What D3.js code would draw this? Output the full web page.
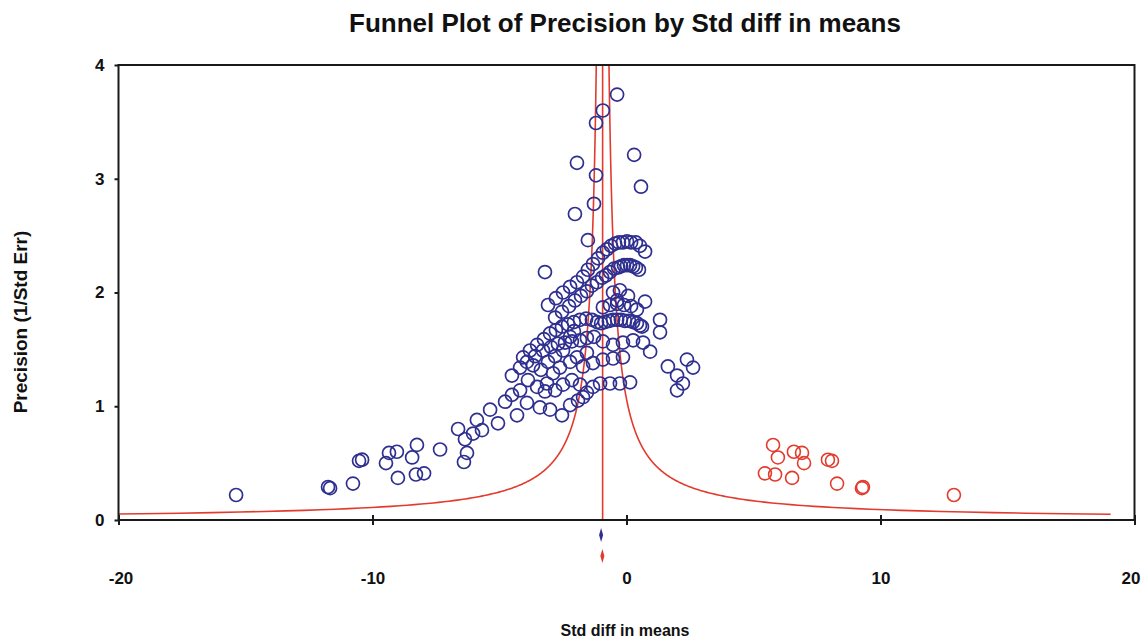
<!DOCTYPE html>
<html>
<head>
<meta charset="utf-8">
<script src="https://cdn.jsdelivr.net/npm/d3@7"></script>
<style>
    body { margin: 0; background: #fff; }
    text { font-family: "Liberation Sans", Arial, sans-serif; font-weight: bold; }
</style>
</head>
<body>
<div id="funnel"><svg></svg></div>
<script>
// Observed studies (blue)
const observedEffects = [
    -15.37, -11.75, -11.67, -10.77, -10.53, -10.41, -9.47, -9.35, -9.04, -9.00, -8.44, -8.29, -8.25, -7.97, -7.34, -6.63, -6.36, -6.28, -6.40, -6.04, -5.89,
    -5.69, -5.37, -5.06, -4.78, -4.51, -4.19, -3.88, -3.52, -3.13, -2.89, -2.62, -2.22, -1.95, -1.71, -1.56, -1.32, -0.93, -0.53, -0.14,
    -4.31, -3.92, -3.41, -3.01, -2.54, -2.22, -1.91, -1.71, -1.56, -1.32, -1.04, -0.65, -0.26, 0.14,
    -3.68, -3.37, -3.09, -2.81, -2.50, -2.22, -2.07, -3.21, -2.81, -2.50, -2.15, -1.83,
    -4.51, -4.19, -3.92, -3.60, -3.29, -2.97, -2.70, -2.42, -2.15, -1.83, -1.56, -1.28, -0.93, -0.53, -0.14, 0.26,
    -4.07, -3.80, -3.52, -3.25, -3.01, -2.78, -2.54, -2.30, -2.07, -1.83, -1.59, -1.36, -1.16, -1.00, -0.85, -0.69, -0.53, -0.37, -0.22, -0.06, 0.10, 0.26, 0.41, 0.53,
    -0.93, -0.65, -0.37, -0.10, 0.18, 0.41,
    -2.81, -2.54, -2.26, -2.03, -1.79, -1.56, -1.36, -1.16, -0.96, -0.81, -0.65, -0.49, -0.33, -0.22, -0.10, 0.02, 0.14, 0.26, 0.37, 0.49,
    -3.09, -2.78, -2.50, -2.22, -1.95, -1.71, -1.52, -1.32, -1.12, -0.93, -0.77, -0.61, -0.45, -0.30, -0.14, 0.02, 0.18, 0.37, 0.53, 0.73,
    -0.37, -0.93, -1.20, 0.30, -1.95, -1.20, 0.57, -1.28, -2.03, -1.52, -3.21,
    -0.53, -0.26, -0.37, 0.06, 0.73, 1.32, 1.32, 0.61, 0.65, 0.93, 1.63, 1.99, 2.38, 2.62, 2.22, 1.99
]
const observedPrecisions = [
    0.22, 0.29, 0.28, 0.32, 0.52, 0.53, 0.50, 0.59, 0.60, 0.37, 0.55, 0.40, 0.66, 0.41, 0.62, 0.80, 0.71, 0.59, 0.51, 0.76, 0.88,
    0.79, 0.97, 0.85, 1.04, 1.10, 1.14, 1.23, 1.17, 1.20, 1.29, 1.34, 1.39, 1.43, 1.35, 1.47, 1.38, 1.41, 1.42, 1.43,
    0.92, 1.03, 0.99, 0.97, 0.92, 1.01, 1.05, 1.08, 1.12, 1.17, 1.20, 1.20, 1.20, 1.21,
    1.36, 1.32, 1.39, 1.44, 1.49, 1.61, 1.66, 1.13, 1.14, 1.19, 1.23, 1.19,
    1.27, 1.34, 1.39, 1.44, 1.49, 1.52, 1.55, 1.56, 1.57, 1.58, 1.60, 1.61, 1.57, 1.54, 1.56, 1.58,
    1.43, 1.49, 1.54, 1.59, 1.64, 1.67, 1.70, 1.72, 1.74, 1.76, 1.77, 1.76, 1.74, 1.73, 1.74, 1.75, 1.76, 1.76, 1.76, 1.75, 1.75, 1.74, 1.73, 1.71,
    1.87, 1.89, 1.90, 1.89, 1.88, 1.85,
    1.78, 1.83, 1.88, 1.93, 1.97, 2.01, 2.06, 2.09, 2.13, 2.15, 2.18, 2.21, 2.22, 2.23, 2.24, 2.24, 2.24, 2.23, 2.22, 2.20,
    1.89, 1.95, 2.00, 2.05, 2.09, 2.14, 2.20, 2.25, 2.30, 2.35, 2.38, 2.41, 2.43, 2.44, 2.44, 2.45, 2.44, 2.44, 2.41, 2.36,
    3.74, 3.60, 3.49, 3.21, 3.14, 3.03, 2.93, 2.78, 2.69, 2.46, 2.18,
    2.00, 2.02, 1.93, 1.97, 1.92, 1.76, 1.65, 1.70, 1.56, 1.48, 1.35, 1.27, 1.41, 1.34, 1.20, 1.14
]

// Imputed studies (red)
const imputedEffects = [5.77, 5.96, 6.59, 6.91, 6.99, 5.45, 5.85, 6.52, 7.93, 8.09, 8.29, 9.27, 9.31, 12.89]
const imputedPrecisions = [0.66, 0.55, 0.60, 0.59, 0.50, 0.41, 0.40, 0.37, 0.53, 0.52, 0.32, 0.28, 0.29, 0.22]

// Summary effects (diamonds under the axis)
const observedSummary = { effect: -1.00, lower: -1.08, upper: -0.92 }
const adjustedSummary = { effect: -0.95, lower: -1.03, upper: -0.87 }
const funnelCenter = -0.94
const funnelWidth = 1.0

const xTicks = [-20, -10, 0, 10, 20]
const yTicks = [0, 1, 2, 3, 4]

class FunnelPlot {
    constructor() {
        this.margins = { top: 65, right: 8.5, bottom: 121, left: 118.5 }
        this.dimensions = { width: 1016, height: 455 }
        this.blue = "#2e2f8f"
        this.red = "#e23b2e"
        this.setUp()
    }

    setUp() {
        let svg = d3.select("#funnel").select("svg")
            .attr("width", 1143)
            .attr("height", 641)
            .style("display", "block")

        let plot = svg.append("g")
            .attr("transform", "translate(" + this.margins.left + "," + this.margins.top + ")")

        this.x = d3.scaleLinear().domain([-20, 20]).range([0, this.dimensions.width])
        this.y = d3.scaleLinear().domain([0, 4]).range([this.dimensions.height, 0])

        svg.append("defs").append("clipPath")
            .attr("id", "plot-clip")
            .append("rect")
            .attr("width", this.dimensions.width)
            .attr("height", this.dimensions.height)

        this.drawFunnel(plot)
        this.drawPoints(plot)
        this.setUpAxes(plot)
        this.drawSummaries(plot)
        this.drawLabels(svg)
    }

    drawFunnel(plot) {
        let g = plot.append("g").attr("clip-path", "url(#plot-clip)")
        let levels = d3.range(0.05, 4.0001, 0.005)
        let line = d3.line().x(d => this.x(d[0])).y(d => this.y(d[1]))

        g.append("path")
            .datum(levels.map(p => [funnelCenter - funnelWidth / p, p]))
            .attr("d", line)
            .attr("fill", "none").attr("stroke", this.red).attr("stroke-width", 1.6)

        g.append("path")
            .datum(levels.map(p => [funnelCenter + funnelWidth / p, p]))
            .attr("d", line)
            .attr("fill", "none").attr("stroke", this.red).attr("stroke-width", 1.6)

        g.append("line")
            .attr("x1", this.x(funnelCenter)).attr("x2", this.x(funnelCenter))
            .attr("y1", this.y(0)).attr("y2", this.y(4))
            .attr("stroke", this.red).attr("stroke-width", 1.6)
    }

    drawPoints(plot) {
        plot.append("g").selectAll("circle")
            .data(observedEffects.map((e, i) => [e, observedPrecisions[i]]))
            .join("circle")
            .attr("cx", d => this.x(d[0]))
            .attr("cy", d => this.y(d[1]))
            .attr("r", 6.5)
            .attr("fill", "none")
            .attr("stroke", this.blue)
            .attr("stroke-width", 1.7)

        plot.append("g").selectAll("circle")
            .data(imputedEffects.map((e, i) => [e, imputedPrecisions[i]]))
            .join("circle")
            .attr("cx", d => this.x(d[0]))
            .attr("cy", d => this.y(d[1]))
            .attr("r", 6.5)
            .attr("fill", "none")
            .attr("stroke", this.red)
            .attr("stroke-width", 1.6)
    }

    setUpAxes(plot) {
        // frame
        plot.append("rect")
            .attr("width", this.dimensions.width)
            .attr("height", this.dimensions.height)
            .attr("fill", "none")
            .attr("stroke", "#1a1a1a")
            .attr("stroke-width", 2)

        let xAxis = plot.append("g")
            .attr("transform", "translate(0," + this.dimensions.height + ")")
            .call(d3.axisBottom(this.x).tickValues(xTicks).tickFormat(d => String(d))
                .tickSize(5).tickPadding(47))
        xAxis.select(".domain").remove()
        xAxis.selectAll(".tick line").attr("y1", -5).attr("stroke", "#1a1a1a").attr("stroke-width", 2)
        xAxis.selectAll("text").attr("font-size", 17).attr("fill", "#111")
            .attr("dx", d => d === 20 ? -4 : (d === -20 ? 2 : 0))

        let yAxis = plot.append("g")
            .call(d3.axisLeft(this.y).tickValues(yTicks).tickFormat(d => String(d))
                .tickSize(4).tickPadding(10))
        yAxis.select(".domain").remove()
        yAxis.selectAll(".tick line").attr("stroke", "#1a1a1a").attr("stroke-width", 2)
        yAxis.selectAll("text").attr("font-size", 17).attr("fill", "#111")
    }

    drawSummaries(plot) {
        let diamond = (s, cy) => [
            [this.x(s.lower), cy], [this.x(s.effect), cy - 7],
            [this.x(s.upper), cy], [this.x(s.effect), cy + 7]
        ].join(" ")

        plot.append("polygon")
            .attr("points", diamond(observedSummary, this.dimensions.height + 15))
            .attr("fill", this.blue)
        plot.append("polygon")
            .attr("points", diamond(adjustedSummary, this.dimensions.height + 36))
            .attr("fill", this.red)
    }

    drawLabels(svg) {
        svg.append("text")
            .attr("x", 625).attr("y", 32)
            .attr("text-anchor", "middle")
            .attr("font-size", 26)
            .attr("fill", "#111")
            .text("Funnel Plot of Precision by Std diff in means")

        svg.append("text")
            .attr("transform", "translate(27,322) rotate(-90)")
            .attr("text-anchor", "middle")
            .attr("font-size", 19)
            .attr("fill", "#111")
            .text("Precision (1/Std Err)")

        svg.append("text")
            .attr("x", 625).attr("y", 636)
            .attr("text-anchor", "middle")
            .attr("font-size", 16)
            .attr("fill", "#111")
            .text("Std diff in means")
    }
}

new FunnelPlot()
</script>
</body>
</html>
